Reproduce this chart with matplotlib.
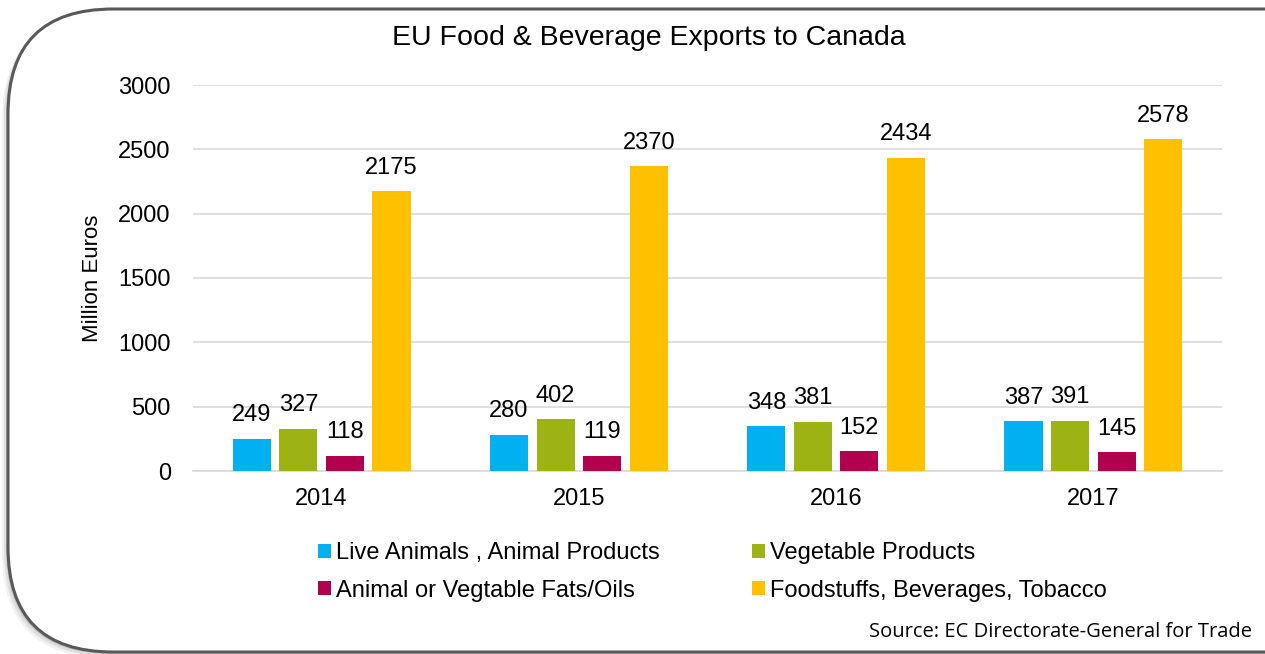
import numpy as np
import matplotlib.pyplot as plt
from matplotlib.patches import FancyBboxPatch, Patch

plt.rcParams.update({
    "font.family": ["Liberation Sans", "DejaVu Sans"],
})

years = ["2014", "2015", "2016", "2017"]
series = [
    "Live Animals , Animal Products",
    "Vegetable Products",
    "Animal or Vegtable Fats/Oils",
    "Foodstuffs, Beverages, Tobacco",
]
live_animals = [249, 280, 348, 387]
vegetable = [327, 402, 381, 391]
fats_oils = [118, 119, 152, 145]
foodstuffs = [2175, 2370, 2434, 2578]

BLUE = "#00B0F0"
GREEN = "#9DB313"
RED = "#B0004E"
YELLOW = "#FFC000"
GRID = "#D9D9D9"

W, H = 1265, 654
fig = plt.figure(figsize=(W / 100, H / 100), dpi=100)

# background frame (pixel coordinates)
bg = fig.add_axes([0, 0, 1, 1])
bg.set_xlim(0, W)
bg.set_ylim(H, 0)
bg.axis("off")
for i, a in enumerate([0.05, 0.08, 0.12]):
    off = 6 - i * 2
    bg.add_patch(FancyBboxPatch((8 - off, 9 + off), 1400, 643,
                                boxstyle="round,pad=0,rounding_size=105",
                                fc="#000000", ec="none", alpha=a, zorder=0))
bg.add_patch(FancyBboxPatch((8, 9), 1400, 643,
                            boxstyle="round,pad=0,rounding_size=105",
                            fc="white", ec="#595959", lw=2.2, zorder=1))

# plot area
ax = fig.add_axes([193 / W, (H - 471) / H, 1029 / W, 386 / H])
ax.set_facecolor("none")
x = np.arange(len(years))
width = 0.148
step = 0.181
data = [live_animals, vegetable, fats_oils, foodstuffs]
colors = [BLUE, GREEN, RED, YELLOW]
for k, (vals, c) in enumerate(zip(data, colors)):
    b = ax.bar(x + (k - 1.5) * step, vals, width, color=c, zorder=3)
    ax.bar_label(b, labels=[str(v) for v in vals], padding=9, fontsize=17)

ax.set_xlim(-0.5, len(years) - 0.5)
ax.set_ylim(0, 3000)
ax.set_yticks(np.arange(0, 3001, 500))
ax.yaxis.grid(True, color=GRID, lw=1.2, zorder=0)
ax.set_xticks(x)
ax.set_xticklabels(years)
ax.tick_params(axis="both", length=0, labelsize=17)
ax.tick_params(axis="y", pad=16)
ax.tick_params(axis="x", pad=12)
for s in ["top", "right", "left"]:
    ax.spines[s].set_visible(False)
ax.spines["bottom"].set_color(GRID)
ax.spines["bottom"].set_linewidth(1.2)
ax.set_ylabel("Million Euros", fontsize=16, labelpad=11)

fig.text(649 / W, 1 - 38 / H, "EU Food & Beverage Exports to Canada",
         ha="center", va="center", fontsize=20.5)

order = [0, 2, 1, 3]
handles = [Patch(fc=colors[i], ec="none") for i in order]
labels = [series[i] for i in order]
fig.legend(handles, labels, ncol=2, loc="upper left",
           bbox_to_anchor=(297 / W, 1 - 521 / H), frameon=False,
           fontsize=17, handlelength=0.55, handleheight=0.55,
           handletextpad=0.2, columnspacing=3.9, labelspacing=0.65)

fig.text(1252 / W, 1 - 632 / H, "Source: EC Directorate-General for Trade",
         ha="right", va="center", fontsize=14.5, family=["Open Sans", "DejaVu Sans"])

fig.savefig("out.png", dpi=100)
